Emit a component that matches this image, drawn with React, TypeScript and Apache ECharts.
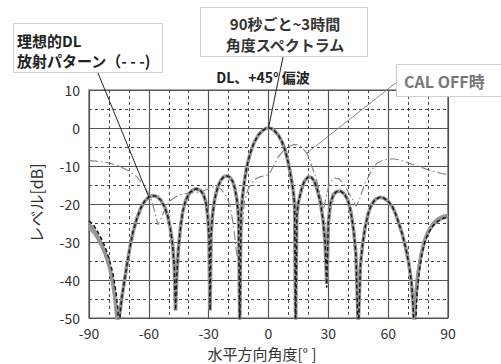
import React, { useEffect, useRef } from "react";
import * as echarts from "echarts";

// Ideal DL radiation pattern (black dashed): [angle deg, level dB]
const idealPattern: [number, number][] = [
  [-90, -24.4], [-88, -25.3], [-86, -27], [-84, -28.9], [-82, -31.2], [-80, -34.2], [-78, -38.3], [-76.5, -43], [-75.5, -47.5], [-75, -56],
  [-74.3, -48], [-73.5, -44.5], [-72.3, -40.5], [-71, -36], [-69.5, -31.5], [-68, -27.5], [-66, -23.8], [-64, -21], [-62, -19.2], [-60, -18.2],
  [-58, -17.8], [-56, -18], [-54, -19], [-52, -20.8], [-50.5, -23.2], [-49.2, -26.5], [-48, -31], [-47.2, -37], [-46.6, -48], [-46, -39],
  [-45.2, -32], [-44.2, -26.5], [-43, -22], [-41.5, -19], [-39.5, -17], [-37.5, -16.2], [-36, -16], [-34, -16.5], [-32.5, -17.6], [-31.3, -19.8],
  [-30.4, -23.5], [-29.8, -29], [-29.3, -48], [-28.8, -28], [-28, -22.5], [-27, -18.8], [-25.5, -15.6], [-24, -13.8], [-22.5, -12.9], [-21, -12.6],
  [-19.5, -12.9], [-18, -14], [-16.8, -16], [-15.8, -19], [-15, -23.5], [-14.4, -56], [-13.8, -23], [-13, -17.8], [-12, -13.8], [-11, -10.5],
  [-10, -8.2], [-8.5, -5.6], [-7, -3.6], [-5, -1.8], [-3, -0.7], [-1.5, -0.15], [0, 0], [1.5, -0.15], [3, -0.7], [5, -1.9],
  [7, -3.9], [8.5, -6.2], [10, -9.3], [11.3, -13], [12.4, -16.5], [13.1, -20.5], [13.6, -56], [14.2, -23], [15, -19.5], [16.5, -16.2],
  [18, -14], [20, -12.8], [21.5, -13], [23, -14], [24.5, -16.3], [26, -19.5], [27.3, -24], [28.4, -30], [29.2, -42], [30, -25],
  [31, -20], [32.5, -17.6], [34, -16.8], [36, -16.6], [38, -17.3], [39.8, -19], [41.3, -22], [42.7, -27], [43.8, -33], [45, -56],
  [46.1, -36], [47.2, -30.5], [48.5, -26], [50, -22.5], [51.5, -20.3], [53.5, -18.8], [56, -18.2], [58, -18.5], [60, -19.3], [62, -20.6],
  [63.5, -22.3], [65.3, -25], [67, -27.8], [68.7, -31.3], [70.3, -35.5], [71.8, -41], [73.5, -56], [74.5, -43], [75.8, -37], [77, -33],
  [78.5, -29.8], [80, -27.8], [82.5, -25.7], [85, -24.5], [87.5, -23.8], [90, -23.4],
];

// Measured angle spectrum, main trace (gray, thick)
const measuredMain: [number, number][] = [
  [-90, -25.6], [-88, -26.6], [-86, -28.3], [-84, -30.3], [-82, -32.8], [-80, -36], [-78.5, -39.5], [-77.3, -43.5], [-76.3, -48], [-75.8, -52],
  [-75, -50], [-74.3, -48], [-73.5, -44.5], [-72.3, -40.5], [-71, -36], [-69.5, -31.5], [-68, -27.5], [-66, -23.8], [-64, -21], [-62, -19.2], [-60, -18.2],
  [-58, -17.8], [-56, -18], [-54, -19], [-52, -20.8], [-50.5, -23.2], [-49.2, -26.5], [-48, -31], [-47.2, -37], [-46.6, -48], [-46, -39],
  [-45.2, -32], [-44.2, -26.5], [-43, -22], [-41.5, -19], [-39.5, -17], [-37.5, -16.2], [-36, -16], [-34, -16.5], [-32.5, -17.6], [-31.3, -19.8],
  [-30.4, -23.5], [-29.8, -29], [-29.3, -48], [-28.8, -28], [-28, -22.5], [-27, -18.8], [-25.5, -15.6], [-24, -13.8], [-22.5, -12.9], [-21, -12.6],
  [-19.5, -12.9], [-18, -14], [-16.8, -16], [-15.8, -19], [-15, -23.5], [-14.4, -52], [-13.8, -23], [-13, -17.8], [-12, -13.8], [-11, -10.5],
  [-10, -8.2], [-8.5, -5.6], [-7, -3.6], [-5, -1.8], [-3, -0.7], [-1.5, -0.15], [0, 0], [1.5, -0.15], [3, -0.7], [5, -1.9],
  [7, -3.9], [8.5, -6.2], [10, -9.3], [11.3, -13], [12.4, -16.5], [13.1, -20.5], [13.6, -52], [14.2, -23], [15, -19.5], [16.5, -16.2],
  [18, -14], [20, -12.8], [21.5, -13], [23, -14], [24.5, -16.3], [26, -19.5], [27.3, -24], [28.4, -30], [29.2, -41], [30, -25],
  [31, -20], [32.5, -17.6], [34, -16.8], [36, -16.6], [38, -17.3], [39.8, -19], [41.3, -22], [42.7, -27], [43.8, -33], [45, -52],
  [46.1, -36], [47.2, -30.5], [48.5, -26], [50, -22.5], [51.5, -20.3], [53.5, -18.8], [56, -18.2], [58, -18.5], [60, -19.3], [62, -20.6],
  [63.5, -22.3], [65.3, -25], [67, -27.8], [68.7, -31.3], [70.3, -35.5], [71.5, -40], [72.5, -46], [73, -52], [73.8, -45], [75, -38.5],
  [76.3, -34], [78, -30], [80, -27.3], [82.5, -25.2], [85, -24], [87.5, -23.4], [90, -23],
];

// Additional measured traces, where they separate from the main one (edges)
const measuredLeftB: [number, number][] = [
  [-90, -26.6], [-88, -27.6], [-86, -29.2], [-84, -31.2], [-82, -33.7], [-80, -37], [-78.5, -40.5], [-77.3, -45], [-76.5, -50],
];
const measuredLeftC: [number, number][] = [
  [-90, -25], [-88, -26], [-86, -27.7], [-84, -29.7], [-82, -32.2], [-80, -35.3], [-78.5, -38.8], [-77.3, -42.5], [-76.2, -47.5],
];
const measuredRightB: [number, number][] = [
  [72.5, -50], [73.3, -44], [74.5, -38], [76, -33.5], [78, -29.5], [80, -27], [82.5, -24.8], [85, -23.6], [87.5, -23], [90, -22.7],
];
const measuredRightC: [number, number][] = [
  [73, -50], [74, -43], [75.3, -37.5], [77, -33], [79, -29.2], [81, -27], [83.5, -25.3], [86, -24.3], [88, -23.8], [90, -23.6],
];

// CAL OFF pattern (gray dash-dot)
const calOff: [number, number][] = [
  [-90, -8.5], [-85, -8.8], [-80, -9.2], [-75, -10], [-70, -11.3], [-66, -12.8], [-62, -15.5], [-59, -18.5], [-57, -22], [-55.5, -25.5],
  [-54, -24], [-52, -21.5], [-49, -19], [-45, -17.6], [-40, -17.2], [-34, -16.8], [-30, -16], [-27, -15.4], [-24, -16], [-21, -18],
  [-19, -21], [-17.5, -26], [-16, -33], [-15, -35], [-13.5, -28], [-12, -19], [-10, -15.8], [-7, -13.5], [-4, -12.8], [-1, -12.5],
  [1, -11.6], [3, -9.5], [5, -7.5], [7.5, -6], [10.5, -4.8], [13, -4.3], [15.5, -4.5], [17.5, -5.6], [19.2, -6.6], [20.5, -8],
  [22, -10.5], [24, -13.5], [26, -17.5], [27.5, -21.5], [29, -18], [30.5, -14.5], [33, -13.2], [35.5, -13.4], [38, -15], [41, -17.8],
  [44, -20.6], [45.5, -19], [48, -15], [50, -13], [52, -10.8], [54.5, -9.2], [58, -8.4], [62, -8.1], [66, -8.4], [70, -9.2],
  [75, -10], [80, -11], [85, -11.7], [90, -12.3],
];

const xMin = -90, xMax = 90, xStep = 30;
const yMin = -50, yMax = 10, yStep = 10;

const titleText = "DL、+45° 偏波";
const idealLabel = ["理想的DL", "放射パターン（- - -)"];
const measuredLabel = ["90秒ごと~3時間", "角度スペクトラム"];
const calOffLabel = "CAL OFF時";
const xName = "水平方向角度[° ]";
const yName = "レベル[dB]";

const FONT = "'Noto Sans CJK JP', 'Noto Sans', sans-serif";

export default function App() {
  const ref = useRef<HTMLDivElement>(null);
  useEffect(() => {
    if (!ref.current) return;
    const chart = echarts.init(ref.current, undefined, { renderer: "svg" });
    const gray = "#959595";
    const traceStyle = (w: number) => ({
      type: "line", showSymbol: false, symbol: "none", clip: true, silent: true,
      lineStyle: { color: gray, width: w }, z: 2,
    });
    chart.setOption({
      animation: false,
      grid: { left: 89, right: 53, top: 90, bottom: 46, show: true, borderColor: "#555", borderWidth: 1.2 },
      xAxis: {
        type: "value", min: xMin, max: xMax, interval: xStep,
        axisLine: { show: false }, axisTick: { show: false },
        axisLabel: { color: "#333", fontSize: 14, fontFamily: FONT, margin: 8 },
        splitLine: { show: true, lineStyle: { color: "#555", width: 1.2 } },
        minorTick: { show: false, splitNumber: 3 },
        minorSplitLine: { show: true, lineStyle: { color: "#333", width: 0.9, type: [3, 3] } },
      },
      yAxis: {
        type: "value", min: yMin, max: yMax, interval: yStep,
        axisLine: { show: false }, axisTick: { show: false },
        axisLabel: { color: "#333", fontSize: 14, fontFamily: FONT, margin: 9 },
        splitLine: { show: true, lineStyle: { color: "#555", width: 1.2 } },
        minorTick: { show: false, splitNumber: 2 },
        minorSplitLine: { show: true, lineStyle: { color: "#333", width: 0.9, type: [3, 3] } },
      },
      series: [
        { ...traceStyle(1.5), data: measuredLeftB },
        { ...traceStyle(1.5), data: measuredLeftC },
        { ...traceStyle(1.5), data: measuredRightB },
        { ...traceStyle(1.5), data: measuredRightC },
        { ...traceStyle(3.6), data: measuredMain },
        {
          type: "line", showSymbol: false, symbol: "none", clip: true, silent: true, data: calOff, z: 3,
          lineStyle: { color: "#8a8a8a", width: 1.2, type: [9, 3, 1.5, 3] },
        },
        {
          type: "line", showSymbol: false, symbol: "none", clip: true, silent: true, data: idealPattern, z: 4,
          lineStyle: { color: "#1a1a1a", width: 1.5, type: [4, 2.5] },
        },
      ],
    });

    const px = (p: [number, number]) => chart.convertToPixel({ gridIndex: 0 }, p) as number[];
    const idealPeak = px(idealPattern.find((d) => d[0] === -60)!);
    const mainPeak = px(idealPattern.find((d) => d[0] === 0)!);
    const calPt = px(calOff.find((d) => d[0] === 19.2)!);

    chart.setOption({
      graphic: [
        { type: "line", shape: { x1: 98, y1: 73, x2: idealPeak[0], y2: idealPeak[1] }, style: { stroke: "#222", lineWidth: 1 }, z: 10 },
        { type: "line", shape: { x1: 283, y1: 57, x2: mainPeak[0], y2: mainPeak[1] }, style: { stroke: "#222", lineWidth: 1 }, z: 10 },
        { type: "line", shape: { x1: 397, y1: 82, x2: calPt[0], y2: calPt[1] }, style: { stroke: "#888", lineWidth: 1 }, z: 10 },
        { type: "rect", shape: { x: 13.5, y: 23.5, width: 149, height: 49 }, style: { fill: "#fff", stroke: "#cfcfcf", lineWidth: 1 }, z: 11 },
        { type: "text", x: 17, y: 40, style: { text: idealLabel[0], font: `bold 15px ${FONT}`, fill: "#222", verticalAlign: "middle" }, z: 12 },
        { type: "text", x: 17, y: 60, style: { text: idealLabel[1], font: `bold 15px ${FONT}`, fill: "#222", verticalAlign: "middle" }, z: 12 },
        { type: "rect", shape: { x: 200.5, y: 7.5, width: 167, height: 49 }, style: { fill: "#fff", stroke: "#cfcfcf", lineWidth: 1 }, z: 11 },
        { type: "text", x: 285, y: 23, style: { text: measuredLabel[0], font: `bold 15px ${FONT}`, fill: "#333", align: "center", verticalAlign: "middle" }, z: 12 },
        { type: "text", x: 285, y: 44, style: { text: measuredLabel[1], font: `bold 15px ${FONT}`, fill: "#333", align: "center", verticalAlign: "middle" }, z: 12 },
        { type: "rect", shape: { x: 396.5, y: 64.5, width: 110, height: 32 }, style: { fill: "#fff", stroke: "#cfcfcf", lineWidth: 1 }, z: 11 },
        { type: "text", x: 404, y: 81, style: { text: calOffLabel, font: `bold 16px ${FONT}`, fill: "#777", verticalAlign: "middle" }, z: 12 },
        { type: "text", x: 263, y: 77, style: { text: titleText, font: `bold 14px ${FONT}`, fill: "#222", align: "center", verticalAlign: "middle" }, z: 12 },
        { type: "text", x: 262, y: 353, style: { text: xName, font: `15px ${FONT}`, fill: "#333", align: "center", verticalAlign: "middle" }, z: 12 },
        { type: "text", x: 36, y: 203, rotation: Math.PI / 2, style: { text: yName, font: `16px ${FONT}`, fill: "#333", align: "center", verticalAlign: "middle" }, z: 12 },
      ],
    });
    return () => chart.dispose();
  }, []);
  return <div ref={ref} style={{ position: "absolute", left: 0, top: 0, width: 501, height: 364 }} />;
}
